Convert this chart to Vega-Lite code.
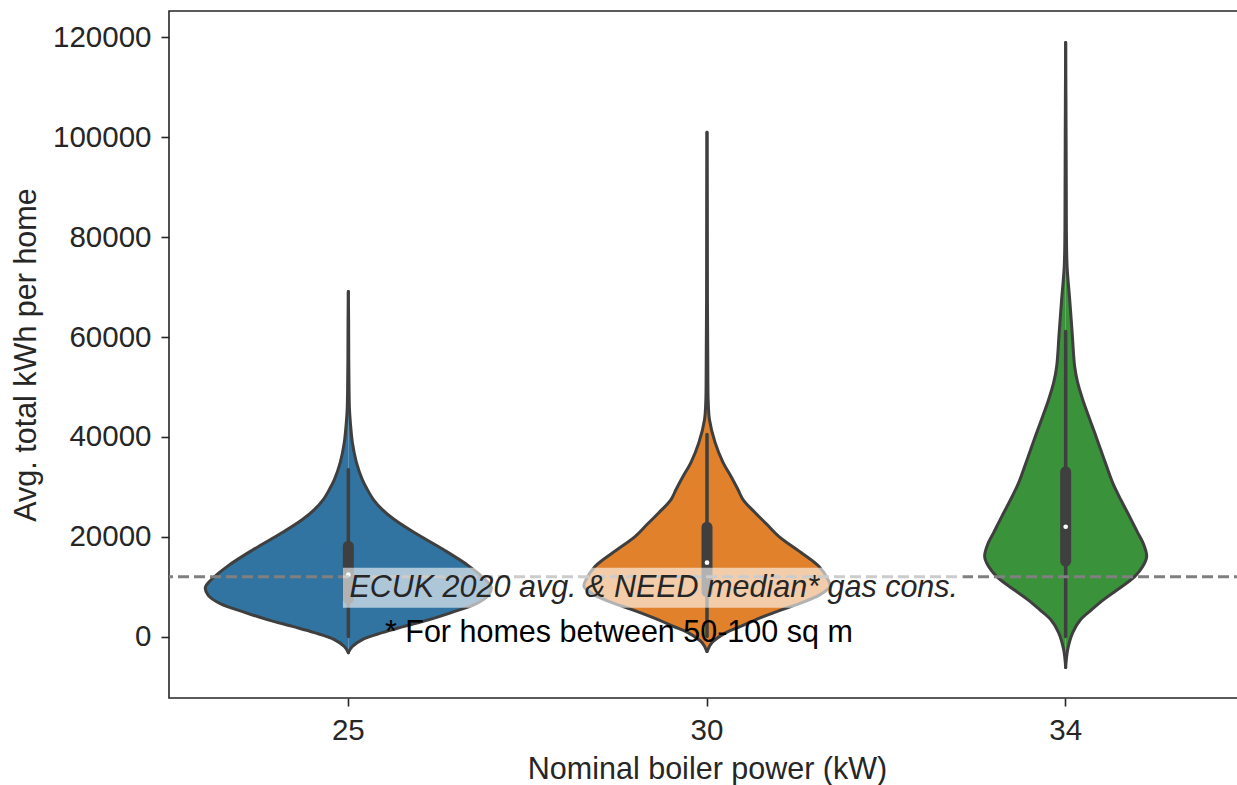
{
  "$schema": "https://vega.github.io/schema/vega-lite/v6.json",
  "width": 1076,
  "height": 687,
  "autosize": {"type": "none"},
  "padding": {"left": 169, "top": 11, "right": -8, "bottom": 87},
  "background": "white",
  "config": {
    "font": "Liberation Sans",
    "view": {"stroke": "#262626", "strokeWidth": 1.6},
    "axis": {
      "domain": false,
      "grid": false,
      "tickColor": "#262626",
      "tickWidth": 1.6,
      "tickSize": 8,
      "labelColor": "#262626",
      "titleColor": "#262626",
      "labelFontSize": 29.5,
      "titleFontSize": 30.5,
      "titleFontWeight": "normal",
      "labelPadding": 10
    }
  },
  "datasets": {
    "v25": [
      {"power": "25", "kWh": 69100, "density": 0},
      {"power": "25", "kWh": 63500, "density": 0.002},
      {"power": "25", "kWh": 55500, "density": 0.003},
      {"power": "25", "kWh": 49500, "density": 0.005},
      {"power": "25", "kWh": 45500, "density": 0.008},
      {"power": "25", "kWh": 42900, "density": 0.014},
      {"power": "25", "kWh": 38900, "density": 0.028},
      {"power": "25", "kWh": 34900, "density": 0.056},
      {"power": "25", "kWh": 31450, "density": 0.097},
      {"power": "25", "kWh": 29450, "density": 0.132},
      {"power": "25", "kWh": 27450, "density": 0.174},
      {"power": "25", "kWh": 25440, "density": 0.236},
      {"power": "25", "kWh": 23440, "density": 0.319},
      {"power": "25", "kWh": 20830, "density": 0.458},
      {"power": "25", "kWh": 17430, "density": 0.66},
      {"power": "25", "kWh": 14220, "density": 0.833},
      {"power": "25", "kWh": 11420, "density": 0.951},
      {"power": "25", "kWh": 9820, "density": 0.993},
      {"power": "25", "kWh": 8210, "density": 0.972},
      {"power": "25", "kWh": 6610, "density": 0.889},
      {"power": "25", "kWh": 4810, "density": 0.715},
      {"power": "25", "kWh": 3410, "density": 0.563},
      {"power": "25", "kWh": 2000, "density": 0.382},
      {"power": "25", "kWh": 800, "density": 0.236},
      {"power": "25", "kWh": -600, "density": 0.097},
      {"power": "25", "kWh": -2000, "density": 0.028},
      {"power": "25", "kWh": -3200, "density": 0}
    ],
    "v30": [
      {"power": "30", "kWh": 101000, "density": 0},
      {"power": "30", "kWh": 87500, "density": 0.002},
      {"power": "30", "kWh": 67500, "density": 0.003},
      {"power": "30", "kWh": 57500, "density": 0.005},
      {"power": "30", "kWh": 51500, "density": 0.006},
      {"power": "30", "kWh": 47500, "density": 0.008},
      {"power": "30", "kWh": 43500, "density": 0.017},
      {"power": "30", "kWh": 38900, "density": 0.056},
      {"power": "30", "kWh": 34900, "density": 0.111},
      {"power": "30", "kWh": 32050, "density": 0.167},
      {"power": "30", "kWh": 29450, "density": 0.215},
      {"power": "30", "kWh": 27450, "density": 0.25},
      {"power": "30", "kWh": 24840, "density": 0.333},
      {"power": "30", "kWh": 22440, "density": 0.417},
      {"power": "30", "kWh": 20030, "density": 0.5},
      {"power": "30", "kWh": 16830, "density": 0.653},
      {"power": "30", "kWh": 14020, "density": 0.778},
      {"power": "30", "kWh": 11420, "density": 0.84},
      {"power": "30", "kWh": 10020, "density": 0.854},
      {"power": "30", "kWh": 8410, "density": 0.785},
      {"power": "30", "kWh": 6810, "density": 0.66},
      {"power": "30", "kWh": 5410, "density": 0.521},
      {"power": "30", "kWh": 3410, "density": 0.34},
      {"power": "30", "kWh": 2000, "density": 0.229},
      {"power": "30", "kWh": 800, "density": 0.132},
      {"power": "30", "kWh": -1200, "density": 0.035},
      {"power": "30", "kWh": -3000, "density": 0}
    ],
    "v34": [
      {"power": "34", "kWh": 119000, "density": 0},
      {"power": "34", "kWh": 107600, "density": 0.002},
      {"power": "34", "kWh": 91550, "density": 0.004},
      {"power": "34", "kWh": 81500, "density": 0.005},
      {"power": "34", "kWh": 74100, "density": 0.01},
      {"power": "34", "kWh": 67500, "density": 0.028},
      {"power": "34", "kWh": 60900, "density": 0.045},
      {"power": "34", "kWh": 54100, "density": 0.0625},
      {"power": "34", "kWh": 50900, "density": 0.083},
      {"power": "34", "kWh": 47500, "density": 0.118},
      {"power": "34", "kWh": 44100, "density": 0.16},
      {"power": "34", "kWh": 40870, "density": 0.201},
      {"power": "34", "kWh": 37460, "density": 0.243},
      {"power": "34", "kWh": 34060, "density": 0.285},
      {"power": "34", "kWh": 30850, "density": 0.326},
      {"power": "34", "kWh": 27450, "density": 0.382},
      {"power": "34", "kWh": 24040, "density": 0.444},
      {"power": "34", "kWh": 20830, "density": 0.5},
      {"power": "34", "kWh": 18430, "density": 0.542},
      {"power": "34", "kWh": 16030, "density": 0.5625},
      {"power": "34", "kWh": 14020, "density": 0.535},
      {"power": "34", "kWh": 12020, "density": 0.479},
      {"power": "34", "kWh": 9420, "density": 0.361},
      {"power": "34", "kWh": 7410, "density": 0.264},
      {"power": "34", "kWh": 5410, "density": 0.181},
      {"power": "34", "kWh": 3410, "density": 0.104},
      {"power": "34", "kWh": 800, "density": 0.049},
      {"power": "34", "kWh": -2600, "density": 0.014},
      {"power": "34", "kWh": -6200, "density": 0}
    ],
    "box": [
      {"power": "25", "lo": 0, "q1": 7600, "med": 12400, "q3": 18100, "hi": 33400},
      {"power": "30", "lo": 0, "q1": 9000, "med": 14800, "q3": 21900, "hi": 40500},
      {"power": "34", "lo": 0, "q1": 15100, "med": 22000, "q3": 33000, "hi": 61100}
    ],
    "notes": [
      {"label": "ECUK 2020 avg. & NEED median* gas cons.", "pos": 0.503, "kWh": 8000, "line": 1},
      {"label": "* For homes between 50-100 sq m", "pos": 0.602, "kWh": -1000, "line": 2}
    ],
    "ref": [{"kWh": 12000}]
  },
  "layer": [
    {
      "data": {"name": "v25"},
      "encoding": {
        "x": {"field": "density", "type": "quantitative", "scale": {"domain": [-1.24537, 6.22685], "nice": false, "zero": false}, "axis": null},
        "y": {"field": "kWh", "type": "quantitative", "title": "Avg. total kWh per home", "scale": {"domain": [-12300, 125300], "nice": false, "zero": false},
          "axis": {"title": "Avg. total kWh per home", "values": [0, 20000, 40000, 60000, 80000, 100000, 120000], "format": "d", "titlePadding": 11}}
      },
      "layer": [
        {"mark": {"type": "area", "orient": "horizontal", "color": "#3274a1", "opacity": 1, "interpolate": "catmull-rom"}, "encoding": {"x2": {"datum": 0}}},
        {"mark": {"type": "line", "color": "#3f3f3f", "strokeWidth": 3, "strokeJoin": "round", "strokeCap": "round", "interpolate": "catmull-rom"}, "encoding": {"order": {"field": "kWh", "type": "quantitative"}}}
      ]
    },
    {
      "data": {"name": "v25"},
      "encoding": {
        "x": {"field": "density", "type": "quantitative", "scale": {"domain": [-6.22685, 1.24537], "reverse": true, "nice": false, "zero": false}, "axis": null},
        "y": {"field": "kWh", "type": "quantitative", "title": "Avg. total kWh per home", "scale": {"domain": [-12300, 125300], "nice": false, "zero": false},
          "axis": {"title": "Avg. total kWh per home", "values": [0, 20000, 40000, 60000, 80000, 100000, 120000], "format": "d", "titlePadding": 11}}
      },
      "layer": [
        {"mark": {"type": "area", "orient": "horizontal", "color": "#3274a1", "opacity": 1, "interpolate": "catmull-rom"}, "encoding": {"x2": {"datum": 0}}},
        {"mark": {"type": "line", "color": "#3f3f3f", "strokeWidth": 3, "strokeJoin": "round", "strokeCap": "round", "interpolate": "catmull-rom"}, "encoding": {"order": {"field": "kWh", "type": "quantitative"}}}
      ]
    },
    {
      "data": {"name": "v30"},
      "encoding": {
        "x": {"field": "density", "type": "quantitative", "scale": {"domain": [-3.73611, 3.73611], "nice": false, "zero": false}, "axis": null},
        "y": {"field": "kWh", "type": "quantitative", "title": "Avg. total kWh per home", "scale": {"domain": [-12300, 125300], "nice": false, "zero": false},
          "axis": {"title": "Avg. total kWh per home", "values": [0, 20000, 40000, 60000, 80000, 100000, 120000], "format": "d", "titlePadding": 11}}
      },
      "layer": [
        {"mark": {"type": "area", "orient": "horizontal", "color": "#e1812c", "opacity": 1, "interpolate": "catmull-rom"}, "encoding": {"x2": {"datum": 0}}},
        {"mark": {"type": "line", "color": "#3f3f3f", "strokeWidth": 3, "strokeJoin": "round", "strokeCap": "round", "interpolate": "catmull-rom"}, "encoding": {"order": {"field": "kWh", "type": "quantitative"}}}
      ]
    },
    {
      "data": {"name": "v30"},
      "encoding": {
        "x": {"field": "density", "type": "quantitative", "scale": {"domain": [-3.73611, 3.73611], "reverse": true, "nice": false, "zero": false}, "axis": null},
        "y": {"field": "kWh", "type": "quantitative", "title": "Avg. total kWh per home", "scale": {"domain": [-12300, 125300], "nice": false, "zero": false},
          "axis": {"title": "Avg. total kWh per home", "values": [0, 20000, 40000, 60000, 80000, 100000, 120000], "format": "d", "titlePadding": 11}}
      },
      "layer": [
        {"mark": {"type": "area", "orient": "horizontal", "color": "#e1812c", "opacity": 1, "interpolate": "catmull-rom"}, "encoding": {"x2": {"datum": 0}}},
        {"mark": {"type": "line", "color": "#3f3f3f", "strokeWidth": 3, "strokeJoin": "round", "strokeCap": "round", "interpolate": "catmull-rom"}, "encoding": {"order": {"field": "kWh", "type": "quantitative"}}}
      ]
    },
    {
      "data": {"name": "v34"},
      "encoding": {
        "x": {"field": "density", "type": "quantitative", "scale": {"domain": [-6.22685, 1.24537], "nice": false, "zero": false}, "axis": null},
        "y": {"field": "kWh", "type": "quantitative", "title": "Avg. total kWh per home", "scale": {"domain": [-12300, 125300], "nice": false, "zero": false},
          "axis": {"title": "Avg. total kWh per home", "values": [0, 20000, 40000, 60000, 80000, 100000, 120000], "format": "d", "titlePadding": 11}}
      },
      "layer": [
        {"mark": {"type": "area", "orient": "horizontal", "color": "#3a923a", "opacity": 1, "interpolate": "catmull-rom"}, "encoding": {"x2": {"datum": 0}}},
        {"mark": {"type": "line", "color": "#3f3f3f", "strokeWidth": 3, "strokeJoin": "round", "strokeCap": "round", "interpolate": "catmull-rom"}, "encoding": {"order": {"field": "kWh", "type": "quantitative"}}}
      ]
    },
    {
      "data": {"name": "v34"},
      "encoding": {
        "x": {"field": "density", "type": "quantitative", "scale": {"domain": [-1.24537, 6.22685], "reverse": true, "nice": false, "zero": false}, "axis": null},
        "y": {"field": "kWh", "type": "quantitative", "title": "Avg. total kWh per home", "scale": {"domain": [-12300, 125300], "nice": false, "zero": false},
          "axis": {"title": "Avg. total kWh per home", "values": [0, 20000, 40000, 60000, 80000, 100000, 120000], "format": "d", "titlePadding": 11}}
      },
      "layer": [
        {"mark": {"type": "area", "orient": "horizontal", "color": "#3a923a", "opacity": 1, "interpolate": "catmull-rom"}, "encoding": {"x2": {"datum": 0}}},
        {"mark": {"type": "line", "color": "#3f3f3f", "strokeWidth": 3, "strokeJoin": "round", "strokeCap": "round", "interpolate": "catmull-rom"}, "encoding": {"order": {"field": "kWh", "type": "quantitative"}}}
      ]
    },
    {
      "data": {"name": "box"},
      "encoding": {
        "x": {"field": "power", "type": "nominal", "scale": {"type": "band", "domain": ["25", "30", "34"], "paddingInner": 0, "paddingOuter": 0},
          "axis": {"title": "Nominal boiler power (kW)", "labelAngle": 0, "titlePadding": 10}}
      },
      "layer": [
        {"mark": {"type": "rule", "color": "#3f3f3f", "strokeWidth": 3.5, "strokeCap": "round"},
          "encoding": {"y": {"field": "lo", "type": "quantitative", "title": "Avg. total kWh per home", "scale": {"domain": [-12300, 125300], "nice": false, "zero": false},
            "axis": {"title": "Avg. total kWh per home", "values": [0, 20000, 40000, 60000, 80000, 100000, 120000], "format": "d", "titlePadding": 11}}, "y2": {"field": "hi"}}},
        {"mark": {"type": "rule", "color": "#3f3f3f", "strokeWidth": 11, "strokeCap": "round"},
          "encoding": {"y": {"field": "q1", "type": "quantitative", "title": "Avg. total kWh per home", "scale": {"domain": [-12300, 125300], "nice": false, "zero": false},
            "axis": {"title": "Avg. total kWh per home", "values": [0, 20000, 40000, 60000, 80000, 100000, 120000], "format": "d", "titlePadding": 11}}, "y2": {"field": "q3"}}},
        {"mark": {"type": "point", "filled": true, "color": "white", "opacity": 1, "size": 22, "shape": "circle"},
          "encoding": {"y": {"field": "med", "type": "quantitative", "title": "Avg. total kWh per home", "scale": {"domain": [-12300, 125300], "nice": false, "zero": false},
            "axis": {"title": "Avg. total kWh per home", "values": [0, 20000, 40000, 60000, 80000, 100000, 120000], "format": "d", "titlePadding": 11}}}}
      ]
    },
    {
      "data": {"name": "ref"},
      "mark": {"type": "rule", "color": "#808080", "strokeWidth": 3, "strokeDash": [11, 5]},
      "encoding": {"y": {"field": "kWh", "type": "quantitative", "title": "Avg. total kWh per home", "scale": {"domain": [-12300, 125300], "nice": false, "zero": false},
        "axis": {"title": "Avg. total kWh per home", "values": [0, 20000, 40000, 60000, 80000, 100000, 120000], "format": "d", "titlePadding": 11}}}
    },
    {
      "data": {"name": "notes"},
      "encoding": {
        "x": {"field": "pos", "type": "quantitative", "scale": {"domain": [0, 3], "nice": false, "zero": false}, "axis": null},
        "y": {"field": "kWh", "type": "quantitative", "title": "Avg. total kWh per home", "scale": {"domain": [-12300, 125300], "nice": false, "zero": false},
          "axis": {"title": "Avg. total kWh per home", "values": [0, 20000, 40000, 60000, 80000, 100000, 120000], "format": "d", "titlePadding": 11}}
      },
      "layer": [
        {
          "transform": [{"filter": "datum.line == 1"}],
          "mark": {"type": "rect", "color": "white", "opacity": 0.6},
          "encoding": {
            "x": {"datum": 0.485, "type": "quantitative", "scale": {"domain": [0, 3], "nice": false, "zero": false}, "axis": null},
            "x2": {"datum": 2.214},
            "y": {"datum": 13800, "type": "quantitative", "title": "Avg. total kWh per home", "scale": {"domain": [-12300, 125300], "nice": false, "zero": false},
              "axis": {"title": "Avg. total kWh per home", "values": [0, 20000, 40000, 60000, 80000, 100000, 120000], "format": "d", "titlePadding": 11}},
            "y2": {"datum": 5800}
          }
        },
        {
          "transform": [{"filter": "datum.line == 1"}],
          "mark": {"type": "text", "align": "left", "baseline": "alphabetic", "fontSize": 30.5, "fontStyle": "italic", "color": "#262626"},
          "encoding": {"text": {"field": "label"}}
        },
        {
          "transform": [{"filter": "datum.line == 2"}],
          "mark": {"type": "text", "align": "left", "baseline": "alphabetic", "fontSize": 30.5, "color": "#000000"},
          "encoding": {"text": {"field": "label"}}
        }
      ]
    }
  ],
  "resolve": {"scale": {"x": "independent"}, "axis": {"x": "independent"}}
}
